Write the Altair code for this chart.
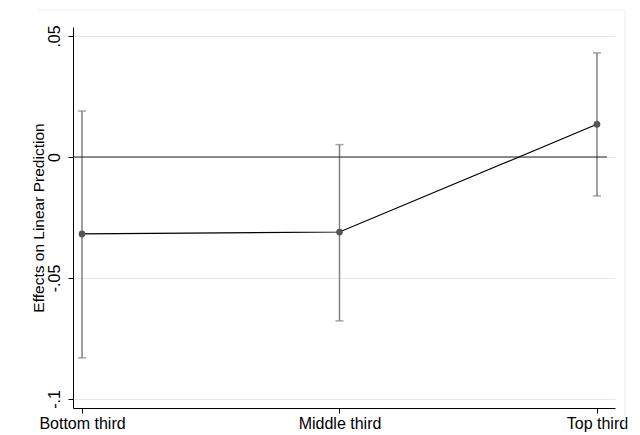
import altair as alt
import pandas as pd

categories = ["Bottom third", "Middle third", "Top third"]
positions = [1, 2, 3]
estimates = [-0.0318, -0.031, 0.0135]
lower = [-0.083, -0.0677, -0.0161]
upper = [0.019, 0.0051, 0.043]

df = pd.DataFrame({"cat": categories, "pos": positions, "est": estimates,
                   "lo": lower, "hi": upper})

FONT = "Liberation Sans"
W, H = 542, 381

xscale = alt.Scale(domain=[0.965, 3.07], nice=False, zero=False)
yscale = alt.Scale(domain=[-0.1037, 0.0537], nice=False, zero=False)

label_expr = "datum.value == 1 ? 'Bottom third' : datum.value == 2 ? 'Middle third' : 'Top third'"
ylabel_expr = "datum.value == 0.05 ? '.05' : datum.value == 0 ? '0' : datum.value == -0.05 ? '-.05' : '-.1'"

x_enc = alt.X("pos:Q", scale=xscale, axis=alt.Axis(
    values=[1, 2, 3], labelExpr=label_expr, title=None, grid=False,
    domainColor="#000000", tickColor="#000000", tickSize=5, labelPadding=2,
    labelFont=FONT, labelFontSize=16, labelColor="#000000"))
y_enc = alt.Y("est:Q", scale=yscale, axis=alt.Axis(
    values=[0.05, 0, -0.05, -0.1], labelExpr=ylabel_expr,
    title="Effects on Linear Prediction", titleFont=FONT, titleFontSize=15.5,
    titleFontWeight="normal", titleColor="#000000", titlePadding=0,
    labelAngle=-90, labelAlign="center", labelBaseline="bottom", labelPadding=6,
    labelFont=FONT, labelFontSize=16, labelColor="#000000",
    grid=True, gridColor="#e6e6e6", gridWidth=1,
    domainColor="#000000", tickColor="#000000", tickSize=5))

base = alt.Chart(df)

bars = base.mark_rule(color="#808080", strokeWidth=1.5).encode(
    x=x_enc, y=alt.Y("lo:Q", scale=yscale), y2="hi:Q")
caps_lo = base.mark_tick(color="#808080", thickness=1.5, size=8, orient="horizontal").encode(
    x=alt.X("pos:Q", scale=xscale), y=alt.Y("lo:Q", scale=yscale))
caps_hi = base.mark_tick(color="#808080", thickness=1.5, size=8, orient="horizontal").encode(
    x=alt.X("pos:Q", scale=xscale), y=alt.Y("hi:Q", scale=yscale))
zero = alt.Chart(pd.DataFrame({"z": [0]})).mark_rule(color="#222222", strokeWidth=1.2).encode(
    y=alt.Y("z:Q", scale=yscale), x=alt.value(0), x2=alt.value(W - 8))
line = base.mark_line(color="#000000", strokeWidth=1.2).encode(
    x=alt.X("pos:Q", scale=xscale), y=y_enc)
points = base.mark_circle(color="#555555", opacity=1, size=45).encode(
    x=alt.X("pos:Q", scale=xscale), y=alt.Y("est:Q", scale=yscale))

border_top = alt.Chart(pd.DataFrame({"a": [0]})).mark_rule(color="#eeeeee", strokeWidth=1).encode(
    x=alt.value(-35), x2=alt.value(W + 10), y=alt.value(-17))
border_right = alt.Chart(pd.DataFrame({"a": [0]})).mark_rule(color="#eeeeee", strokeWidth=1).encode(
    x=alt.value(W + 10), y=alt.value(-17), y2=alt.value(H + 20))

chart = alt.layer(bars, zero, caps_lo, caps_hi, line, points, border_top, border_right).properties(
    width=W, height=H,
    autosize=alt.AutoSizeParams(type="none"),
    padding={"left": 65, "top": 19, "right": 17, "bottom": 27},
    background="white",
).configure_view(stroke=None)

chart.save("out.html", embed_options={"renderer": "svg", "actions": False})
